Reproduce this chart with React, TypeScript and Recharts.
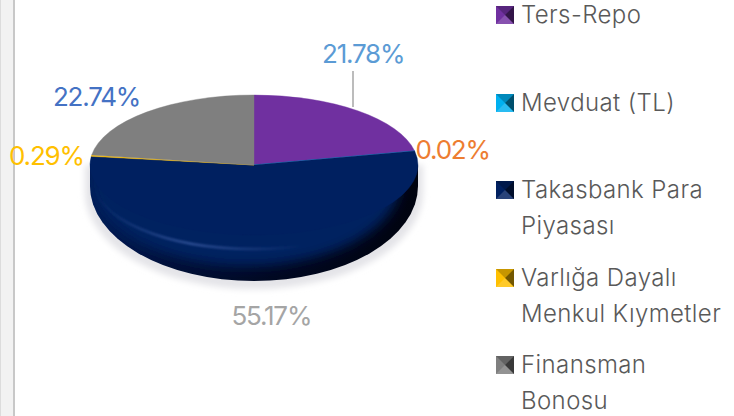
import React from 'react'
import { PieChart, Pie, Legend } from 'recharts'

const categories = ['Ters-Repo', 'Mevduat (TL)', 'Takasbank Para Piyasası', 'Varlığa Dayalı Menkul Kıymetler', 'Finansman Bonosu']
const shares = [21.78, 0.02, 55.17, 0.29, 22.74]
const sliceColors = ['#7030a0', '#00b0f0', '#002060', '#ffc000', '#7f7f7f']
const labelColors = ['#5b9bd5', '#ed7d31', '#a5a5a5', '#ffc000', '#4472c4']
// label centre relative to the rim point of each slice
const labelOffsets = [
  [5.5, -57],
  [38, -1],
  [11, 81],
  [-45, 0],
  [-50, -16],
]

const chartData = categories.map((name, i) => ({ name, value: shares[i], fill: sliceColors[i] }))

const CX = 254
const CY = 165
const RX = 164
const FACE_RY = 70
const SIDE_CY = 186
const SIDE_RY = 95

const rad = (deg: number) => (deg * Math.PI) / 180

const FaceSlice = (props: any) => {
  const { cx, cy, outerRadius, startAngle, endAngle, fill } = props
  const ry = outerRadius * (FACE_RY / RX)
  const x1 = cx + outerRadius * Math.cos(rad(startAngle))
  const y1 = cy - ry * Math.sin(rad(startAngle))
  const x2 = cx + outerRadius * Math.cos(rad(endAngle))
  const y2 = cy - ry * Math.sin(rad(endAngle))
  const large = Math.abs(startAngle - endAngle) > 180 ? 1 : 0
  const d = `M${cx},${cy}L${x1},${y1}A${outerRadius},${ry} 0 ${large} 1 ${x2},${y2}Z`
  return <path d={d} fill={fill} stroke={fill} strokeWidth={0.4} />
}

// front wall of the disc: only the part of a slice in the lower half shows
const lowerArc = (props: any, rx: number, cyTop: number, cyBottom: number, ry: number) => {
  const { cx, startAngle, endAngle } = props
  const a = Math.min(startAngle, 0)
  const b = Math.max(endAngle, -180)
  if (a <= b) return null
  const x1 = cx + rx * Math.cos(rad(a))
  const x2 = cx + rx * Math.cos(rad(b))
  const y1 = cyBottom - ry * Math.sin(rad(a))
  const y2 = cyBottom - ry * Math.sin(rad(b))
  return `M${x1},${cyTop}L${x1},${y1}A${rx},${ry} 0 ${a - b > 180 ? 1 : 0} 1 ${x2},${y2}L${x2},${cyTop}Z`
}

const ShadowSlice = (props: any) => {
  const d = lowerArc(props, RX + 5, CY, SIDE_CY + 6, SIDE_RY + 2)
  if (!d) return <g />
  return <path d={d} fill="#e4e4e8" filter="url(#soft3)" />
}

const SideSlice = (props: any) => {
  const d = lowerArc(props, RX, CY, SIDE_CY, SIDE_RY)
  if (!d) return <g />
  return (
    <g>
      <path d={d} fill="url(#sideShade)" />
      <g clipPath="url(#sideClip)">
        <ellipse cx={props.cx - 8} cy={182} rx={154} ry={84} fill={props.fill} filter="url(#soft6)" />
        <path
          d={`M${props.cx - 160},181A160,68 0 0 0 ${props.cx + 160},181`}
          fill="none"
          stroke="url(#rimLight)"
          strokeWidth={2.5}
          filter="url(#soft1)"
        />
      </g>
    </g>
  )
}

const renderLabel = (props: any) => {
  const { cx, cy, midAngle, outerRadius, index } = props
  const ry = outerRadius * (FACE_RY / RX)
  const px = cx + outerRadius * Math.cos(rad(midAngle))
  const py = cy - ry * Math.sin(rad(midAngle))
  const x = px + labelOffsets[index][0]
  const y = py + labelOffsets[index][1]
  return (
    <g key={index}>
      {index === 0 && <line x1={353} y1={71} x2={353} y2={107} stroke="#a6a6a6" strokeWidth={1.5} />}
      <text
        x={x}
        y={y}
        textAnchor="middle"
        dominantBaseline="central"
        fill={labelColors[index]}
        fontFamily="Inter, sans-serif"
        fontSize={26}
        letterSpacing={-1.2}
      >
        {shares[index].toFixed(2)}%
      </text>
    </g>
  )
}

const LegendSwatch = ({ color }: { color: string }) => (
  <svg width={18} height={18} style={{ position: 'absolute', left: 0, top: 9 }}>
    <rect width={18} height={18} fill={color} />
    <polygon points="0,0 18,0 9,9" fill="#000" fillOpacity={0.22} />
    <polygon points="18,0 18,18 9,9" fill="#000" fillOpacity={0.55} />
    <polygon points="0,18 18,18 9,9" fill="#fff" fillOpacity={0.16} />
  </svg>
)

const LegendBox = () => (
  <div style={{ position: 'relative', width: 238, height: 416 }}>
    {categories.map((name, i) => (
      <div
        key={name}
        style={{
          position: 'absolute',
          top: i * 87.5 - 3,
          left: 0,
          width: 236,
          paddingLeft: 25,
          boxSizing: 'border-box',
          fontFamily: 'Inter, sans-serif',
          fontWeight: 300,
          fontSize: 24,
          letterSpacing: 0.4,
          lineHeight: '36px',
          color: '#595959',
        }}
      >
        <LegendSwatch color={sliceColors[i]} />
        {name}
      </div>
    ))}
  </div>
)

export default function App() {
  return (
    <div style={{ position: 'absolute', left: 0, top: 0, width: 734, height: 416, overflow: 'hidden', background: '#fff' }}>
      <div
        style={{
          position: 'absolute',
          left: 0,
          top: 0,
          width: 15,
          height: 416,
          boxSizing: 'border-box',
          background: '#f2f2f2',
          borderLeft: '1px solid #dcdcdc',
          borderRight: '2px solid #c8c8c8',
        }}
      />
      <PieChart width={734} height={416} margin={{ top: 0, right: 0, bottom: 0, left: 0 }} style={{ position: 'absolute', left: 0, top: 0 }}>
        <defs>
          <filter id="soft3" x="-10%" y="-10%" width="120%" height="120%">
            <feGaussianBlur stdDeviation="3" />
          </filter>
          <filter id="soft6" x="-10%" y="-10%" width="120%" height="120%">
            <feGaussianBlur stdDeviation="6" />
          </filter>
          <filter id="soft1" x="-10%" y="-20%" width="120%" height="140%">
            <feGaussianBlur stdDeviation="0.8" />
          </filter>
          <linearGradient id="sideShade" x1="0" y1="0" x2="1" y2="0">
            <stop offset="0%" stopColor="#001c56" />
            <stop offset="25%" stopColor="#001038" />
            <stop offset="55%" stopColor="#000822" />
            <stop offset="100%" stopColor="#00030f" />
          </linearGradient>
          <linearGradient id="rimLight" x1="0" y1="0" x2="1" y2="0">
            <stop offset="0%" stopColor="#3f5fa8" stopOpacity={0} />
            <stop offset="30%" stopColor="#3f5fa8" stopOpacity={0.75} />
            <stop offset="65%" stopColor="#3f5fa8" stopOpacity={0} />
          </linearGradient>
          <clipPath id="sideClip">
            <path d={`M${CX - RX},${CY}L${CX - RX},${SIDE_CY}A${RX},${SIDE_RY} 0 0 0 ${CX + RX},${SIDE_CY}L${CX + RX},${CY}Z`} />
          </clipPath>
        </defs>
        <Pie
          data={chartData}
          dataKey="value"
          cx={CX}
          cy={CY}
          outerRadius={RX}
          startAngle={90}
          endAngle={-270}
          stroke="none"
          legendType="none"
          shape={ShadowSlice}
          isAnimationActive={false}
        />
        <Pie
          data={chartData}
          dataKey="value"
          cx={CX}
          cy={CY}
          outerRadius={RX}
          startAngle={90}
          endAngle={-270}
          stroke="none"
          legendType="none"
          shape={SideSlice}
          isAnimationActive={false}
        />
        <Pie
          data={chartData}
          dataKey="value"
          cx={CX}
          cy={CY}
          outerRadius={RX}
          startAngle={90}
          endAngle={-270}
          stroke="none"
          shape={FaceSlice}
          label={renderLabel}
          labelLine={false}
          isAnimationActive={false}
        />
        <Legend
          layout="vertical"
          align="right"
          verticalAlign="top"
          content={<LegendBox />}
          wrapperStyle={{ position: 'absolute', left: 496, top: 0, width: 238, margin: 0 }}
        />
      </PieChart>
    </div>
  )
}
